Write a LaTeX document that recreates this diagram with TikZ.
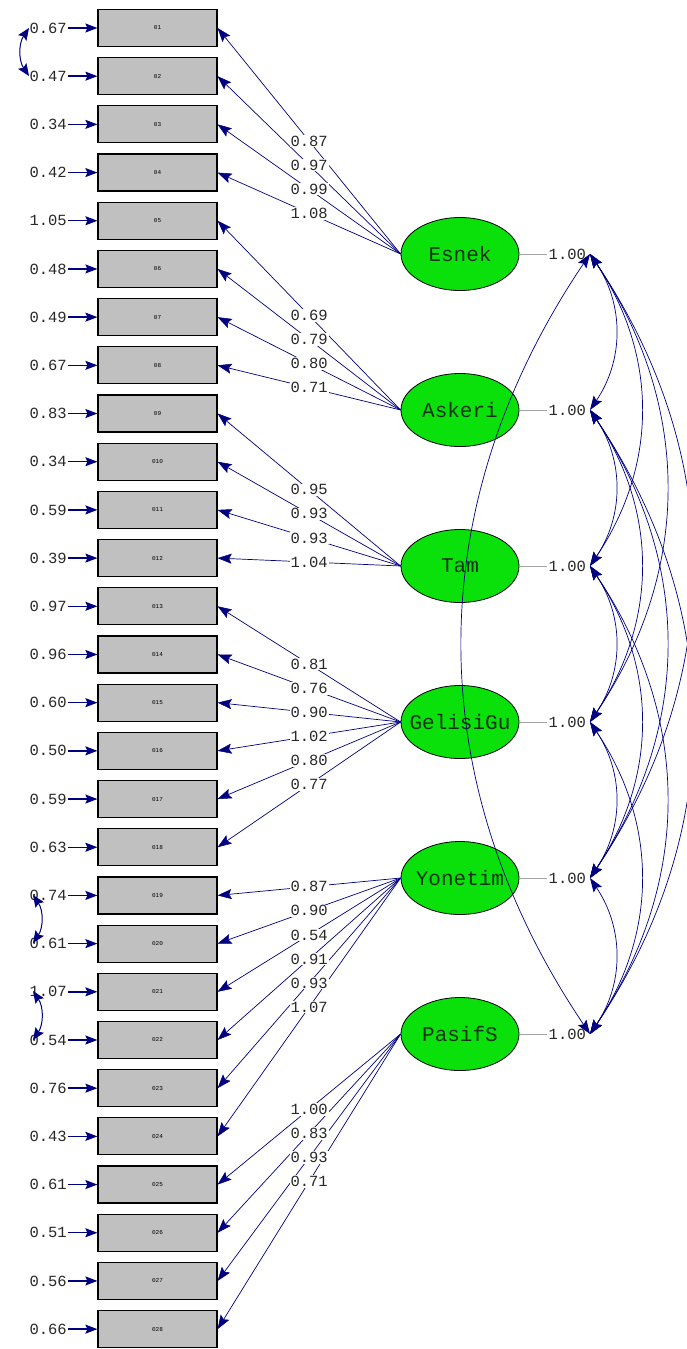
\documentclass[tikz,border=0pt]{standalone}
\usepackage{fontspec}
\newfontfamily\monof{Liberation Mono}
\usetikzlibrary{shapes.geometric,arrows.meta,calc}
\definecolor{nav}{RGB}{0,0,128}
\definecolor{lgreen}{RGB}{10,225,10}
\definecolor{boxgray}{RGB}{192,192,192}
\definecolor{txt}{RGB}{40,40,40}
\definecolor{latxt}{RGB}{15,50,15}
\begin{document}
\begin{tikzpicture}[x=1pt,y=-1pt,
 obs/.style={draw=black,line width=1.2pt,fill=boxgray,minimum width=119pt,minimum height=37pt,inner sep=0pt,font=\monof\fontsize{6}{6}\selectfont},
 lat/.style={ellipse,draw=black,line width=0.8pt,fill=lgreen,minimum width=118pt,minimum height=73pt,inner sep=0pt},
 lattxt/.style={inner sep=0pt,text=latxt,font=\monof\fontsize{21}{21}\selectfont},
 num/.style={font=\monof\fontsize{15.5}{15.5}\selectfont,text=txt,inner sep=1pt},
 load/.style={draw=nav,line width=0.7pt,-{Stealth[length=14pt,width=10pt,inset=2.5pt,line width=0.5pt,fill=nav]}},
 err/.style={draw=nav,line width=1.4pt,-{Stealth[length=12pt,width=9pt,inset=2pt,fill=nav]}},
 cov/.style={draw=nav,line width=0.7pt,{Stealth[length=14pt,width=10pt,inset=2.5pt,fill=nav]}-{Stealth[length=14pt,width=10pt,inset=2.5pt,fill=nav]}},
 ecov/.style={draw=nav,line width=1pt,{Stealth[length=12pt,width=10pt,inset=2pt,fill=nav]}-{Stealth[length=12pt,width=10pt,inset=2pt,fill=nav]}},
 vline/.style={draw=gray!70,line width=0.6pt}
 ]
\useasboundingbox (0,0) rectangle (686,1349);
\fill[white] (0,0) rectangle (686,1349);
% observed boxes
\foreach \k in {1,...,28} {
  \node[obs] (b\k) at (157.5,{28+(\k-1)*48.19}) {0\k};
}
% error variances
\foreach \v [count=\k] in {0.67,0.47,0.34,0.42,1.05,0.48,0.49,0.67,0.83,0.34,0.59,0.39,0.97,0.96,0.60,0.50,0.59,0.63,0.74,0.61,1.07,0.54,0.76,0.43,0.61,0.51,0.56,0.66} {
  \node[num,anchor=east] (e\k) at (68,{28+(\k-1)*48.19}) {\v};
  \draw[err] (e\k.east) -- (b\k.west);
}
% error covariances
\coordinate (c1) at (29,28);  \coordinate (c2) at (29,76);
\coordinate (c19) at (33,895); \coordinate (c20) at (33,943);
\coordinate (c21) at (33,991); \coordinate (c22) at (33,1040);
\draw[ecov] (c1) to[bend right=34] (c2);
\draw[ecov] (c19) to[bend left=34] (c20);
\draw[ecov] (c21) to[bend left=34] (c22);
% latent ellipses
\foreach \n [count=\i] in {Esnek,Askeri,Tam,GelisiGu,Yonetim,PasifS} {
  \node[lat] (L\i) at (460,{254+(\i-1)*156}) {};
  \node[lattxt] (t\i) at (L\i.center) {\n};
  \coordinate (P\i) at (590,{254+(\i-1)*156});
  \draw[vline] (L\i.east) -- ++(28,0) node[num,anchor=west] (v\i) {1.00};
}
% loadings
\foreach \i/\k in {1/1,1/2,1/3,1/4,2/5,2/6,2/7,2/8,3/9,3/10,3/11,3/12,4/13,4/14,4/15,4/16,4/17,4/18,5/19,5/20,5/21,5/22,5/23,5/24,6/25,6/26,6/27,6/28} {
  \draw[load] (L\i.west) -- (b\k.east);
}
\foreach \i/\k/\v in {1/1/0.87,1/2/0.97,1/3/0.99,1/4/1.08,2/5/0.69,2/6/0.79,2/7/0.80,2/8/0.71,3/9/0.95,3/10/0.93,3/11/0.93,3/12/1.04,4/13/0.81,4/14/0.76,4/15/0.90,4/16/1.02,4/17/0.80,4/18/0.77,5/19/0.87,5/20/0.90,5/21/0.54,5/22/0.91,5/23/0.93,5/24/1.07,6/25/1.00,6/26/0.83,6/27/0.93,6/28/0.71} {
  \node[num,fill=white] (l\k) at ($(L\i.west)!0.5!(b\k.east)$) {\v};
}
% covariances among latents
\foreach \i/\j in {1/2,1/3,1/4,1/5,2/3,2/4,2/5,2/6,3/4,3/5,3/6,4/5,4/6,5/6} {
  \draw[cov] (P\i) to[bend left=34] (P\j);
}
\draw[cov] (P1) to[bend right=34] (P6);
\end{tikzpicture}
\end{document}
